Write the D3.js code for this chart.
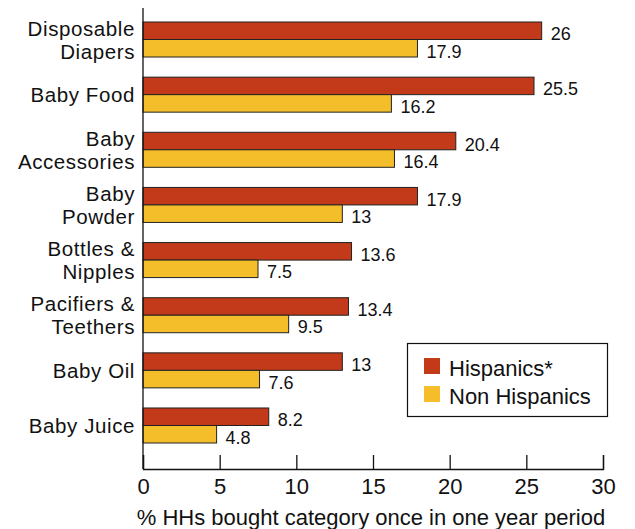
<!DOCTYPE html>
<html><head><meta charset="utf-8">
<script src="https://cdn.jsdelivr.net/npm/d3@7"></script>
<style>body{margin:0;background:#fff}svg{display:block}text{font-family:"Liberation Sans",Arial,sans-serif;fill:#111}</style>
</head><body><svg id="c" width="635" height="529"></svg>
<script>
const categories = [["Disposable","Diapers"],["Baby Food"],["Baby","Accessories"],["Baby","Powder"],["Bottles &","Nipples"],["Pacifiers &","Teethers"],["Baby Oil"],["Baby Juice"]];
const hispanics = [26, 25.5, 20.4, 17.9, 13.6, 13.4, 13, 8.2];
const nonHispanics = [17.9, 16.2, 16.4, 13, 7.5, 9.5, 7.6, 4.8];
const seriesNames = ["Hispanics*", "Non Hispanics"];
const xTicks = [0,5,10,15,20,25,30];
const axisTitle = "% HHs bought category once in one year period";
const colors = ["#C23A19", "#F4BE2B"];

const svg = d3.select("#c");
const keys = categories.map(c => c.join(" "));
const x = d3.scaleLinear().domain([0,30]).range([143,603]);
const y = d3.scaleBand().domain(keys).range([22,443]).paddingInner(0.365).paddingOuter(0);
const ys = d3.scaleBand().domain([0,1]).range([0,y.bandwidth()]);
const series = [hispanics, nonHispanics];

series.forEach((vals, si) => {
  svg.append("g").selectAll("rect").data(vals).join("rect")
    .attr("x", x(0)).attr("y", (d,i) => y(keys[i]) + ys(si))
    .attr("width", d => x(d) - x(0)).attr("height", ys.bandwidth())
    .attr("fill", colors[si]).attr("stroke", "#222").attr("stroke-width", 1);
  svg.append("g").selectAll("text").data(vals).join("text")
    .attr("x", d => x(d) + 9).attr("y", (d,i) => y(keys[i]) + ys(si) + ys.bandwidth()/2 + 9.5)
    .attr("font-size", 18).text(d => d);
});

// category labels
const lab = svg.append("g");
categories.forEach((c, i) => {
  const cy = y(keys[i]) + y.bandwidth()/2;
  const lh = 23;
  c.forEach((line, j) => {
    lab.append("text").attr("x", 135).attr("y", cy + (j - (c.length-1)/2) * lh + 7.5)
      .attr("text-anchor", "end").attr("font-size", 20.5).attr("letter-spacing", 0.6).text(line);
  });
});

// axes
svg.append("line").attr("x1", x(0)).attr("x2", x(0)).attr("y1", 8).attr("y2", 469).attr("stroke", "#111").attr("stroke-width", 1.3);
const xa = svg.append("g").attr("transform", "translate(0,469)")
  .call(d3.axisBottom(x).tickValues(xTicks).tickSize(-14).tickPadding(0).tickFormat(d3.format("d")));
xa.select(".domain").attr("stroke", "#111").attr("stroke-width", 1.3);
xa.selectAll(".tick line").attr("stroke", "#111").attr("stroke-width", 1.3);
xa.selectAll(".tick text").attr("font-size", 22).attr("y", 25).attr("dy", 0).attr("font-family", "Liberation Sans, Arial, sans-serif").attr("fill", "#111");

svg.append("text").attr("x", 371).attr("y", 525).attr("text-anchor", "middle").attr("font-size", 22).text(axisTitle);

// legend
const lg = svg.append("g");
lg.append("rect").attr("x", 407.5).attr("y", 343.5).attr("width", 200).attr("height", 73).attr("fill", "#fff").attr("stroke", "#111").attr("stroke-width", 1.2);
seriesNames.forEach((n, i) => {
  lg.append("rect").attr("x", 424).attr("y", 358 + i*28).attr("width", 16).attr("height", 16).attr("fill", colors[i]);
  lg.append("text").attr("x", 449).attr("y", 376 + i*28).attr("font-size", 22).text(n);
});
</script></body></html>
